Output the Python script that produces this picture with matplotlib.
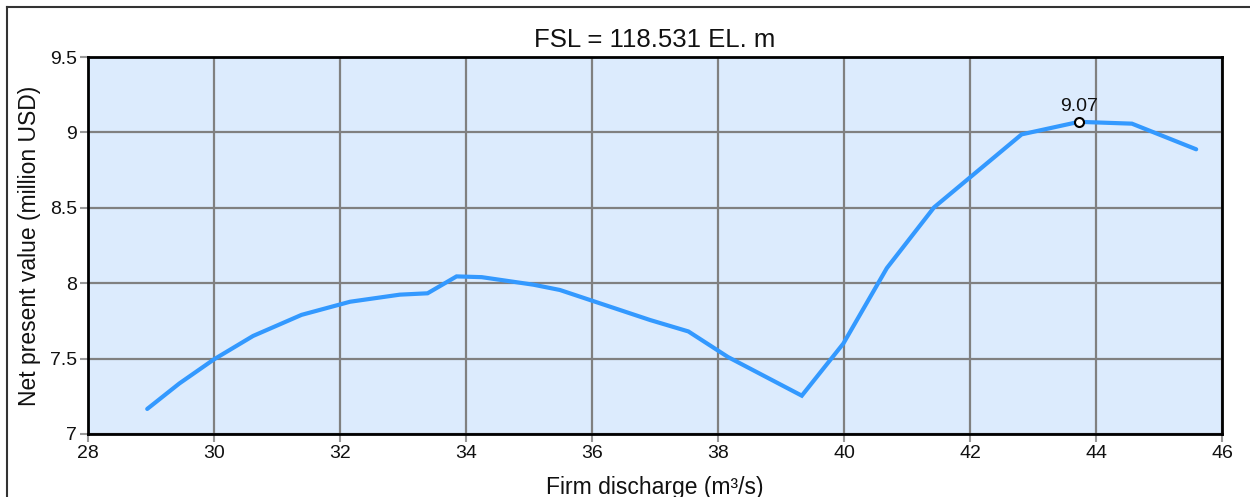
import matplotlib
matplotlib.use("Agg")
import matplotlib.pyplot as plt
from matplotlib.lines import Line2D

plt.rcParams['font.family'] = ['Liberation Sans', 'DejaVu Sans']

# Firm discharge (m3/s) vs net present value (million USD)
discharge = [28.94, 29.45, 30.0, 30.62, 31.39, 32.16, 32.95, 33.39, 33.85, 34.25,
             35.07, 35.49, 36.92, 37.53, 38.16, 39.33, 39.99, 40.68, 41.43, 42.82,
             43.73, 44.57, 45.59]
npv = [7.166, 7.335, 7.495, 7.65, 7.79, 7.877, 7.924, 7.933, 8.045, 8.04,
       7.99, 7.955, 7.756, 7.68, 7.51, 7.254, 7.60, 8.10, 8.503, 8.987,
       9.07, 9.058, 8.888]

best_q = 43.73
best_npv = 9.07

x_ticks = [28, 30, 32, 34, 36, 38, 40, 42, 44, 46]
y_ticks = [7, 7.5, 8, 8.5, 9, 9.5]
y_tick_labels = ["7", "7.5", "8", "8.5", "9", "9.5"]

fig = plt.figure(figsize=(12.5, 4.97), dpi=100)
ax = fig.add_axes([0.0704, 0.1268, 0.9072, 0.7585])
ax.set_facecolor('#dcebfd')

ax.plot(discharge, npv, color='#3399ff', lw=3, solid_capstyle='round',
        solid_joinstyle='miter', zorder=3)
ax.plot([best_q], [best_npv], marker='o', ms=6.5, mfc='white', mec='black',
        mew=1.5, zorder=4)
ax.annotate(f"{best_npv:.2f}", (best_q, best_npv), xytext=(0, 5),
            textcoords='offset points', ha='center', va='bottom', fontsize=14,
            color='#111111', zorder=5)

ax.set_xlim(28, 46)
ax.set_ylim(7, 9.5)
ax.set_xticks(x_ticks)
ax.set_yticks(y_ticks)
ax.set_yticklabels(y_tick_labels)
ax.grid(True, color='#808080', lw=1.6, zorder=1)
ax.set_axisbelow(True)
ax.tick_params(axis='both', direction='out', length=6, width=1.5,
               color='#999999', labelsize=14, labelcolor='#111111', pad=2)
for s in ax.spines.values():
    s.set_color('black')
    s.set_linewidth(2)
    s.set_zorder(6)

ax.set_title("FSL = 118.531 EL. m", fontsize=18.5, pad=7, color='#111111')
ax.set_xlabel("Firm discharge (m\u00b3/s)", fontsize=16.5, labelpad=10, color='#111111')
ax.set_ylabel("Net present value (million USD)", fontsize=16.5, labelpad=6, color='#111111')

# Frame lines along the top and left edges of the figure
fig.add_artist(Line2D([7/1250, 1.0], [1 - 7/497, 1 - 7/497], transform=fig.transFigure,
                      color='#333333', lw=1.5))
fig.add_artist(Line2D([7/1250, 7/1250], [0.0, 1 - 7/497], transform=fig.transFigure,
                      color='#333333', lw=1.5))

fig.savefig('out.png', dpi=100)
